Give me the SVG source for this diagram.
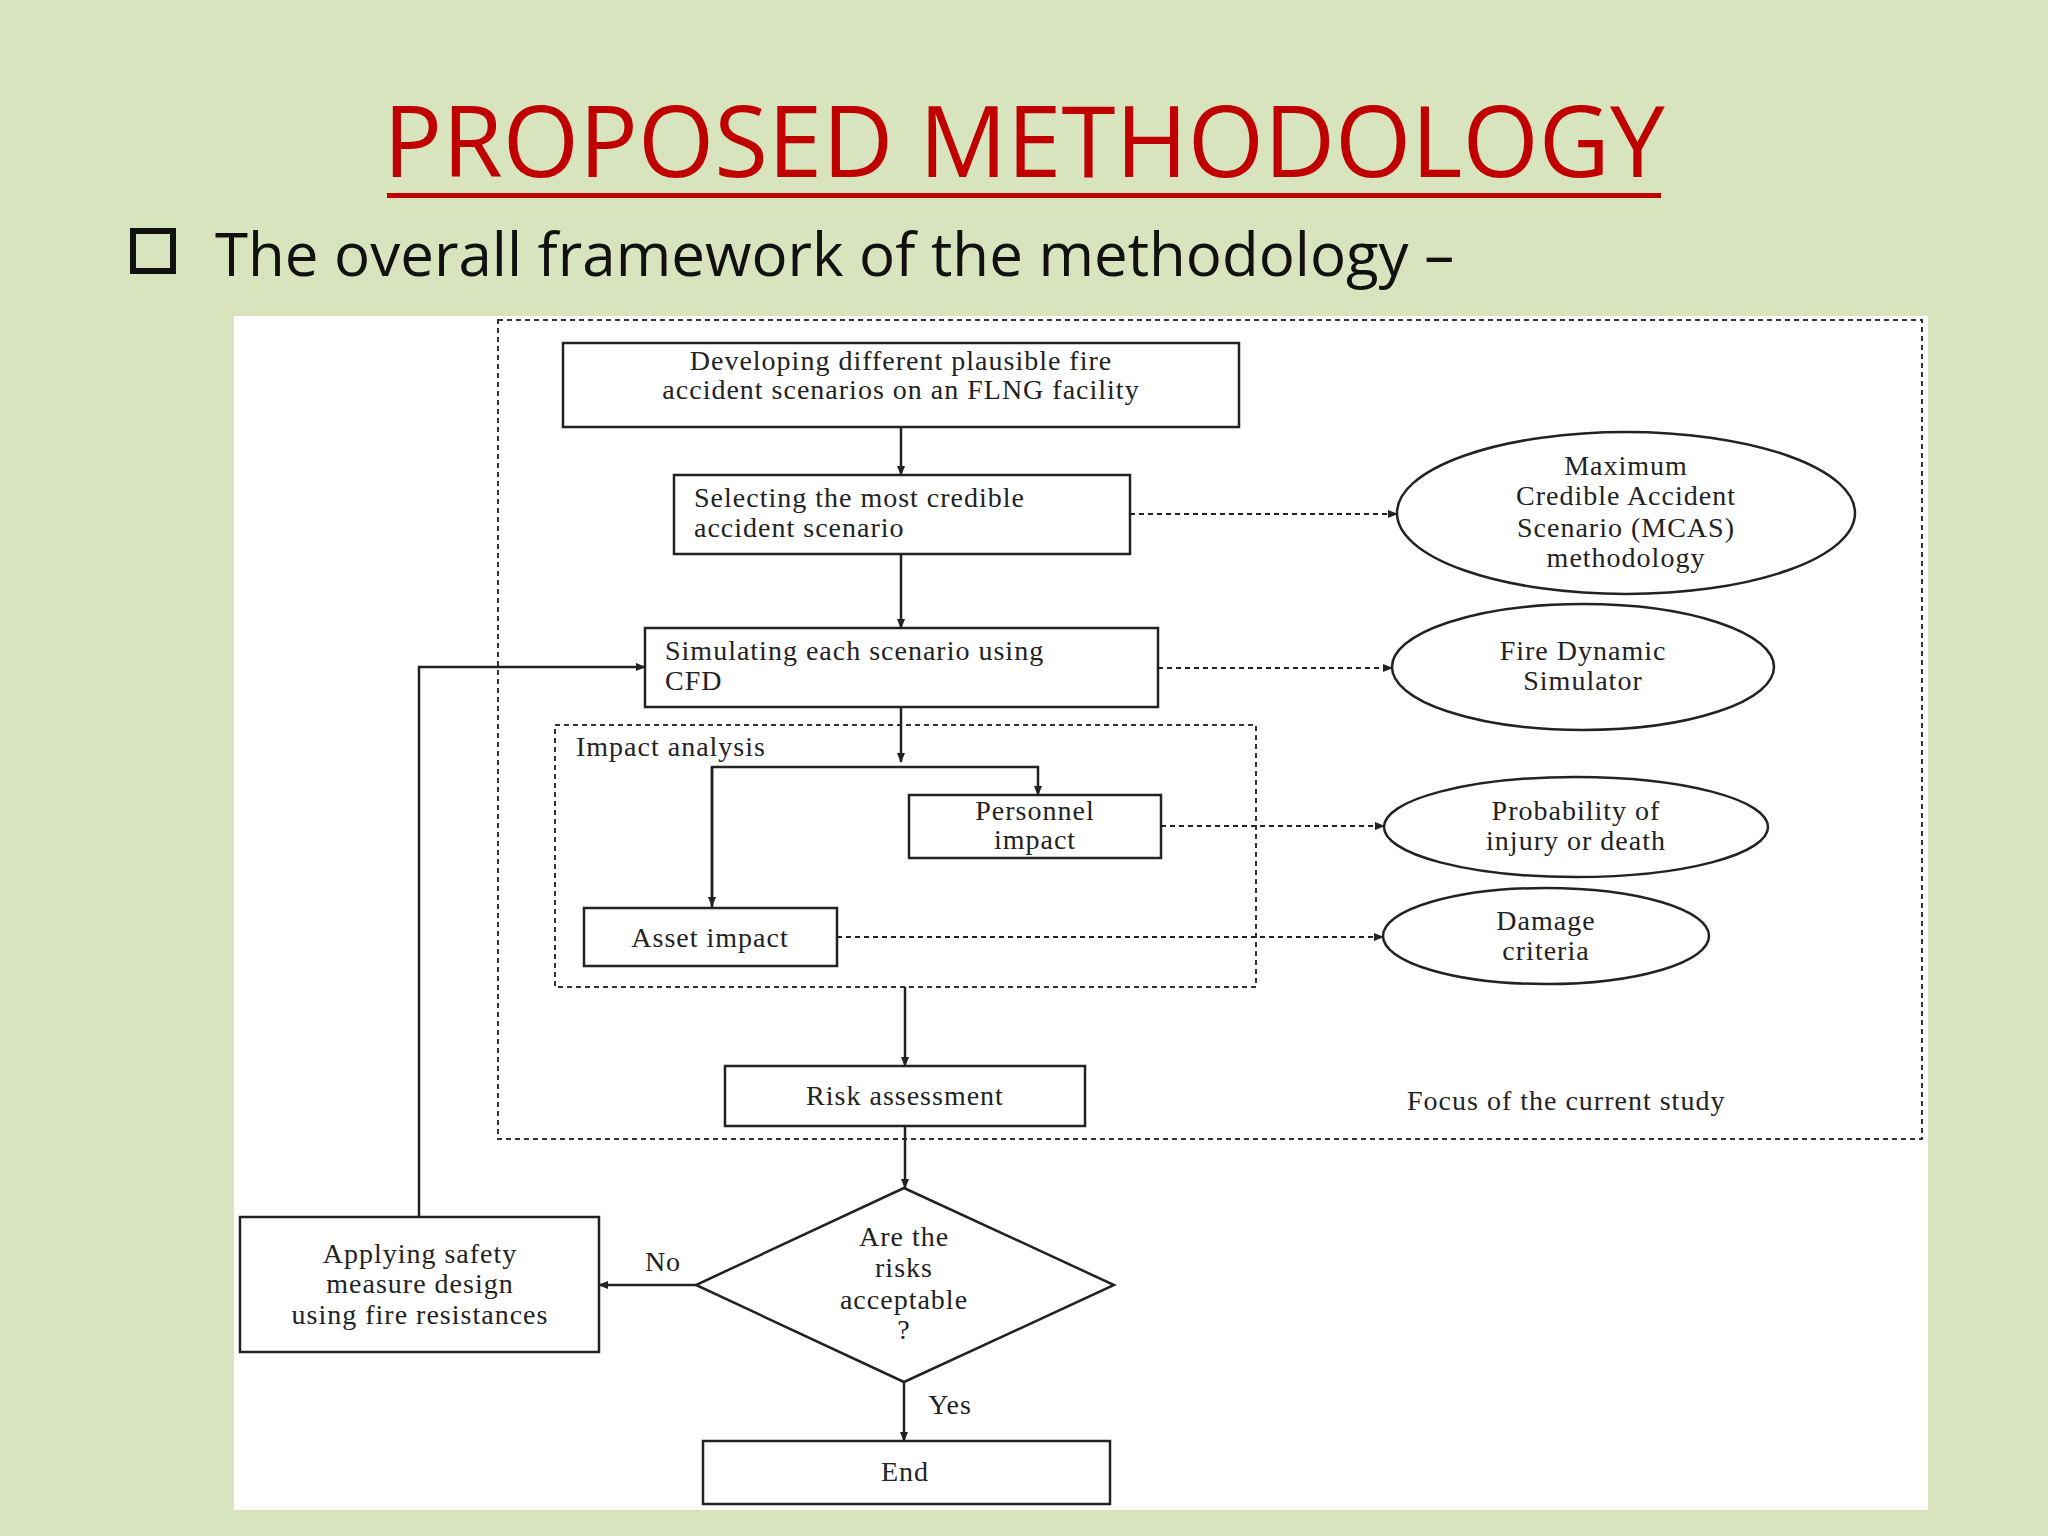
<svg xmlns="http://www.w3.org/2000/svg" width="2048" height="1536" viewBox="0 0 2048 1536">
<style>
.b{fill:#fff;stroke:#222;stroke-width:2.5}
.d{fill:none;stroke:#333;stroke-width:2;stroke-dasharray:5 4}
.t{font-family:"Liberation Serif",serif;font-size:28px;fill:#222;text-anchor:middle;letter-spacing:1px}
.l{fill:none;stroke:#222;stroke-width:2.5}
.dl{fill:none;stroke:#222;stroke-width:2;stroke-dasharray:5 4}
</style>
<defs><marker id="a" markerWidth="10" markerHeight="10" refX="9" refY="5" orient="auto" markerUnits="userSpaceOnUse"><path d="M0,1 L10,5 L0,9 Z" fill="#222"/></marker></defs>
<rect width="2048" height="1536" fill="#d7e4bd"/>
<text x="1024" y="177" font-family="Open Sans,Liberation Sans,sans-serif" font-size="98" fill="#c00000" text-anchor="middle">PROPOSED METHODOLOGY</text>
<rect x="387" y="193" width="1274" height="5" fill="#c00000"/>
<rect x="133" y="231" width="40" height="40" fill="none" stroke="#111" stroke-width="6"/>
<text x="215" y="276" font-family="Open Sans,Liberation Sans,sans-serif" font-size="60" fill="#111">The overall framework of the methodology –</text>
<rect x="234" y="316" width="1694" height="1194" fill="#fff"/>
<rect x="498" y="320" width="1424" height="819" class="d"/>
<rect x="555" y="725" width="701" height="262" class="d"/>
<text x="576" y="756" class="t" style="text-anchor:start">Impact analysis</text>
<text x="1407" y="1110" class="t" style="text-anchor:start">Focus of the current study</text>
<g id="connectors">
<path d="M901 427V475" class="l" marker-end="url(#a)"/>
<path d="M901 554V628" class="l" marker-end="url(#a)"/>
<path d="M901 707V762" class="l" marker-end="url(#a)"/>
<path d="M712 908V767H1038V795" class="l" marker-end="url(#a)"/>
<path d="M712 767V906" class="l" marker-end="url(#a)"/>
<path d="M905 987V1066" class="l" marker-end="url(#a)"/>
<path d="M905 1126V1188" class="l" marker-end="url(#a)"/>
<path d="M696 1285H599" class="l" marker-end="url(#a)"/>
<path d="M904 1382V1441" class="l" marker-end="url(#a)"/>
<path d="M419 1217V667H645" class="l" marker-end="url(#a)"/>
<path d="M1130 514H1397" class="dl" marker-end="url(#a)"/>
<path d="M1158 668H1392" class="dl" marker-end="url(#a)"/>
<path d="M1161 826H1384" class="dl" marker-end="url(#a)"/>
<path d="M837 937H1383" class="dl" marker-end="url(#a)"/>
<text x="663" y="1271" class="t">No</text>
<text x="950" y="1414" class="t">Yes</text>
</g>
<g id="n1"><rect x="563" y="343" width="676" height="84" class="b"/><text x="901" y="370" class="t">Developing different plausible fire</text><text x="901" y="399" class="t">accident scenarios on an FLNG facility</text></g>
<g id="n2"><rect x="674" y="475" width="456" height="79" class="b"/><text x="694" y="507" class="t" style="text-anchor:start">Selecting the most credible</text><text x="694" y="537" class="t" style="text-anchor:start">accident scenario</text></g>
<g id="e1"><ellipse cx="1626" cy="513" rx="229" ry="81" class="b"/><text x="1626" y="475" class="t">Maximum</text><text x="1626" y="505" class="t">Credible Accident</text><text x="1626" y="537" class="t">Scenario (MCAS)</text><text x="1626" y="567" class="t">methodology</text></g>
<g id="n3"><rect x="645" y="628" width="513" height="79" class="b"/><text x="665" y="660" class="t" style="text-anchor:start">Simulating each scenario using</text><text x="665" y="690" class="t" style="text-anchor:start">CFD</text></g>
<g id="e2"><ellipse cx="1583" cy="667" rx="191" ry="63" class="b"/><text x="1583" y="660" class="t">Fire Dynamic</text><text x="1583" y="690" class="t">Simulator</text></g>
<g id="n4"><rect x="909" y="795" width="252" height="63" class="b"/><text x="1035" y="820" class="t">Personnel</text><text x="1035" y="849" class="t">impact</text></g>
<g id="n5"><rect x="584" y="908" width="253" height="58" class="b"/><text x="710" y="947" class="t">Asset impact</text></g>
<g id="e3"><ellipse cx="1576" cy="827" rx="192" ry="50" class="b"/><text x="1576" y="820" class="t">Probability of</text><text x="1576" y="850" class="t">injury or death</text></g>
<g id="e4"><ellipse cx="1546" cy="936" rx="163" ry="48" class="b"/><text x="1546" y="930" class="t">Damage</text><text x="1546" y="960" class="t">criteria</text></g>
<g id="n6"><rect x="725" y="1066" width="360" height="60" class="b"/><text x="905" y="1105" class="t">Risk assessment</text></g>
<g id="n7"><polygon points="904,1188 1114,1285 904,1382 696,1285" class="b"/><text x="904" y="1246" class="t">Are the</text><text x="904" y="1277" class="t">risks</text><text x="904" y="1309" class="t">acceptable</text><text x="904" y="1339" class="t">?</text></g>
<g id="n8"><rect x="240" y="1217" width="359" height="135" class="b"/><text x="420" y="1263" class="t">Applying safety</text><text x="420" y="1293" class="t">measure design</text><text x="420" y="1324" class="t">using fire resistances</text></g>
<g id="n9"><rect x="703" y="1441" width="407" height="63" class="b"/><text x="905" y="1481" class="t">End</text></g>
</svg>
